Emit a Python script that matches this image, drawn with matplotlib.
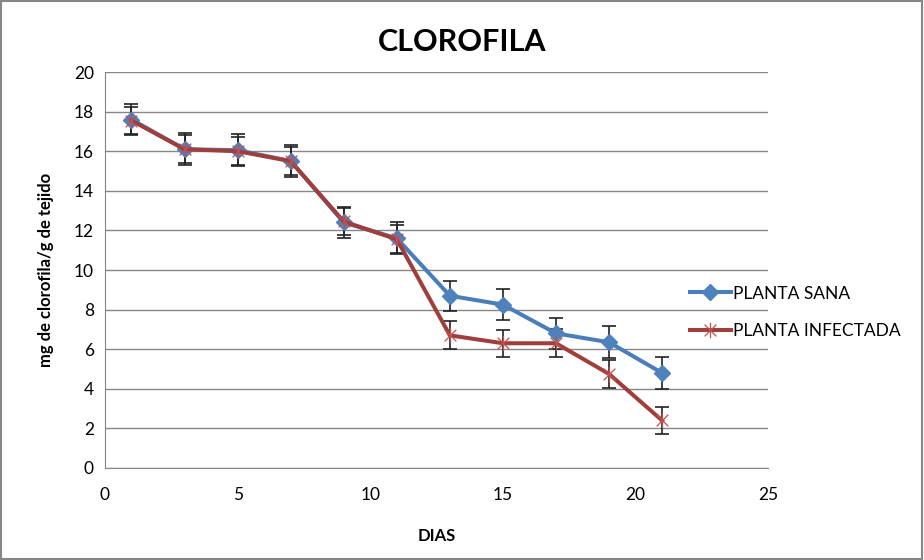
import numpy as np
import matplotlib.pyplot as plt
from matplotlib.patches import Rectangle
from matplotlib.path import Path

plt.rcParams['font.family'] = ['Lato', 'DejaVu Sans']

dias = [1, 3, 5, 7, 9, 11, 13, 15, 17, 19, 21]
sana = [17.6, 16.1, 16.05, 15.5, 12.4, 11.6, 8.7, 8.25, 6.8, 6.35, 4.8]
infectada = [17.55, 16.1, 16.0, 15.5, 12.45, 11.55, 6.7, 6.3, 6.3, 4.75, 2.4]
err_sana = [0.8, 0.8, 0.8, 0.8, 0.8, 0.8, 0.75, 0.8, 0.8, 0.8, 0.8]
err_inf = [0.7, 0.7, 0.7, 0.7, 0.7, 0.7, 0.7, 0.67, 0.7, 0.7, 0.69]

# Excel style "star" marker: an x with a vertical stroke
star = Path([(-1, -1), (1, 1), (-1, 1), (1, -1), (0, -1.3), (0, 1.3)],
            [Path.MOVETO, Path.LINETO, Path.MOVETO, Path.LINETO, Path.MOVETO, Path.LINETO])

fig = plt.figure(figsize=(9.24, 5.6), dpi=100)
ax = fig.add_axes([0.1136, 0.1643, 0.7178, 0.7071])

# error bars first (drawn under the lines)
ax.errorbar(dias, sana, yerr=err_sana, fmt='none', ecolor='#222222',
            elinewidth=1.2, capsize=5, capthick=1.2, zorder=2)
ax.errorbar(dias, infectada, yerr=err_inf, fmt='none', ecolor='#222222',
            elinewidth=1.2, capsize=5, capthick=1.2, zorder=2)

ax.plot(dias, sana, color='#4A7EBB', lw=2.9, marker='D', ms=8,
        mfc='#4F81BD', mec='#4F81BD', label='PLANTA SANA', zorder=3)
ax.plot(dias, infectada, color='#A03E3B', lw=2.9, marker=star, ms=11,
        mew=0.9, mec='#C0504D', mfc='none', label='PLANTA INFECTADA', zorder=4)

ax.set_xlim(0, 25)
ax.set_ylim(0, 20)
ax.set_xticks(range(0, 26, 5))
ax.set_yticks(range(0, 21, 2))
ax.grid(axis='y', color='#868686', lw=1)
ax.set_axisbelow(True)
for s in ['top', 'right']:
    ax.spines[s].set_visible(False)
for s in ['left', 'bottom']:
    ax.spines[s].set_color('#868686')
ax.tick_params(length=0, labelsize=12.5, colors='black', pad=8)
ax.tick_params(axis='x', pad=14)

ax.set_xlabel('DIAS', fontsize=12, fontweight='bold', labelpad=18)
ax.set_ylabel('mg de clorofila/g de tejido', fontsize=12, fontweight='bold', labelpad=14)
fig.text(0.5, 0.925, 'CLOROFILA', ha='center', va='center', fontsize=22, fontweight='bold')

ax.legend(loc='center left', bbox_to_anchor=(0.858, 0.393), frameon=False,
          fontsize=12.5, handlelength=2.4, handletextpad=0.1, labelspacing=1.25)

fig.patches.append(Rectangle((0.001, 0.001), 0.997, 0.997, transform=fig.transFigure,
                             fill=False, edgecolor='#868686', lw=1.5))

fig.savefig('out.png', dpi=100)
